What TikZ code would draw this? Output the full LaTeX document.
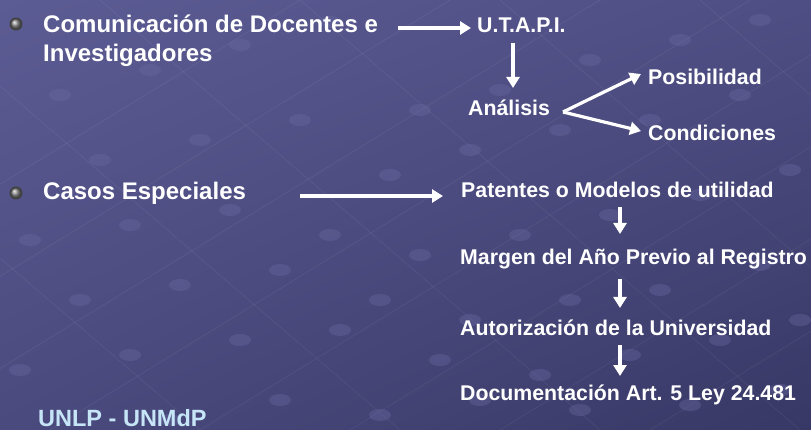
\documentclass[tikz,border=0pt]{standalone}
\usepackage{fontspec}
\setmainfont{Liberation Sans}
\usetikzlibrary{arrows.meta,shadings}
\definecolor{bgUL}{HTML}{5C5C94}
\definecolor{bgUR}{HTML}{4E4E84}
\definecolor{bgLL}{HTML}{4A4A7E}
\definecolor{bgLR}{HTML}{383866}
\definecolor{bubble}{HTML}{6A6AA2}
\definecolor{footc}{HTML}{C6E6F8}
\tikzset{
  big/.style={anchor=west, inner sep=0pt, text=white, font=\bfseries\fontsize{24}{28}\selectfont},
  small/.style={anchor=west, inner sep=0pt, text=white, font=\bfseries\fontsize{21.3}{25}\selectfont},
  arr/.style={draw=white, line width=3.2pt, -{Triangle[length=11pt,width=13pt]}},
  bul/.style={circle, inner sep=0pt, minimum size=13pt, fill=black!75, draw=none},
  bub/.style={fill=bubble, opacity=0.38, draw=none},
  gridl/.style={draw=white, opacity=0.07, line width=0.6pt}
}
\begin{document}
\begin{tikzpicture}[x=1pt,y=-1pt]
\useasboundingbox (0,0) rectangle (811,430);
\shade[upper left=bgUL, upper right=bgUR, lower left=bgLL, lower right=bgLR] (0,0) rectangle (811,430);
% faint background lines
\foreach \s in {-400,-250,-100,50,200,350,500,650}
  \draw[gridl] (\s,430) -- (\s+700,0);
\foreach \s in {-300,-100,100,300,500,700}
  \draw[gridl] (\s,0) -- (\s+500,430);
% faint bubbles
\foreach \x/\y in {60/95,150/70,240/45,330/22,420/110,500/90,590/60,680/40,760/20,
                   100/160,200/140,300/120,390/175,470/150,560/130,650/120,740/95,
                   30/240,130/225,230/210,330/235,420/255,520/235,610/215,700/195,790/170,
                   80/300,180/285,280/270,380/300,470/320,570/300,660/290,760/265,
                   20/370,130/355,240/340,340/330,440/360,540/375,630/355,720/340,800/320,
                   170/420,280/400,380/415,480/400,580/410,690/405,780/390}
  \fill[bub] (\x,\y) ellipse (11pt and 6pt);
% bullets
\node[bul] (b1) at (16,24) {};
\shade[ball color=gray!85] (b1.center) circle (5pt);
\node[bul] (b2) at (16,193) {};
\shade[ball color=gray!85] (b2.center) circle (5pt);
% left texts
\node[big] (com1) at (43,24) {Comunicación de Docentes e};
\node[big] (com2) at (43,55) {Investigadores};
\node[big] (casos) at (43,193) {Casos Especiales};
% right texts
\node[small] (utapi) at (477,25) {U.T.A.P.I.};
\node[small] (anal) at (468,108) {Análisis};
\node[small] (posi) at (648,77) {Posibilidad};
\node[small] (cond) at (648,133) {Condiciones};
\node[small] (pat) at (461,190) {Patentes o Modelos de utilidad};
\node[small] (marg) at (460,259) {Margen del Año Previo al Registro};
\node[small] (aut) at (460,328) {Autorización de la Universidad};
\node[small] (doc) at (460,395) {Documentación Art. 5 Ley 24.481};
\node[anchor=west, inner sep=0pt, text=footc, font=\bfseries\fontsize{23.5}{27}\selectfont] (foot) at (38,418) {UNLP - UNMdP};
% connectors
\coordinate (c0) at (398,28);
\draw[arr] (c0) -- ([xshift=-6pt]utapi.west |- c0);
\coordinate (u1) at (513,43);
\coordinate (u2) at (513,88);
\draw[arr] (u1) -- (u2);
\coordinate (vo) at (563,112);
\draw[arr] (vo) -- ([xshift=-7pt,yshift=3pt]posi.west);
\draw[arr] (vo) -- ([xshift=-7pt,yshift=2pt]cond.west);
\coordinate (c1) at (300,196);
\draw[arr] (c1) -- ([xshift=-18pt]pat.west |- c1);
\draw[arr] (620,207) -- (620,234);
\draw[arr] (620,279) -- (620,308);
\draw[arr] (620,345) -- (620,376);
\end{tikzpicture}
\end{document}
